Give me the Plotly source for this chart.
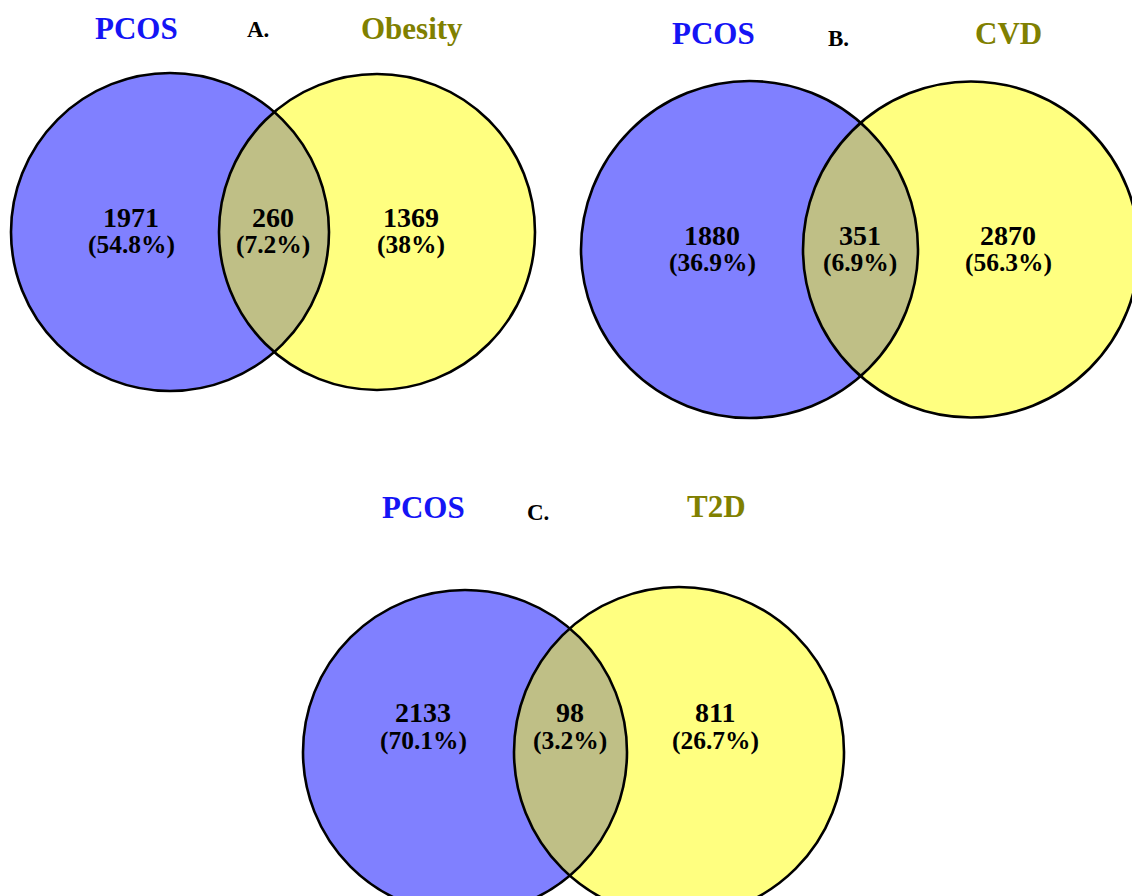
import numpy as np
import plotly.graph_objects as go

# ---------------- data ----------------
panel_letters = ["A.", "B.", "C."]
set_left = ["PCOS", "PCOS", "PCOS"]
set_right = ["Obesity", "CVD", "T2D"]
only_left = [1971, 1880, 2133]
shared = [260, 351, 98]
only_right = [1369, 2870, 811]
pct_left = ["54.8%", "36.9%", "70.1%"]
pct_shared = ["7.2%", "6.9%", "3.2%"]
pct_right = ["38%", "56.3%", "26.7%"]

# ---------------- layout geometry (pixels of the canvas) ----------------
W, H = 1132, 896
geom = [
    dict(c1=(170, 232), r1=159, c2=(377, 232), r2=158,
         tl=(136, 28), tm=(258, 29), tr=(412, 28),
         xs=(131, 273, 411), ny=217, py=244),
    dict(c1=(749.5, 249.5), r1=168.5, c2=(971, 249.5), r2=168,
         tl=(713, 33), tm=(838, 38), tr=(1008, 33),
         xs=(712, 860, 1008), ny=235, py=262),
    dict(c1=(465, 752), r1=162, c2=(679, 752), r2=165,
         tl=(423, 507), tm=(538, 512), tr=(716, 506),
         xs=(423, 570, 715), ny=712, py=740),
]

BLUE_FILL = "rgb(128,128,255)"
YELLOW_FILL = "rgb(255,255,128)"
LENS_FILL = "rgb(191,191,134)"
BLUE_TXT = "rgb(20,20,245)"
OLIVE_TXT = "rgb(128,128,0)"
FONT = "Liberation Serif"


def lens_path(c1, r1, c2, r2, n=80):
    (x1, y1), (x2, y2) = c1, c2
    d = np.hypot(x2 - x1, y2 - y1)
    a = (r1**2 - r2**2 + d**2) / (2 * d)
    h = np.sqrt(max(r1**2 - a**2, 0))
    ux, uy = (x2 - x1) / d, (y2 - y1) / d
    px, py = x1 + a * ux, y1 + a * uy
    p_top = (px + h * uy, py - h * ux)
    p_bot = (px - h * uy, py + h * ux)
    t1a = np.arctan2(p_top[1] - y1, p_top[0] - x1)
    t1b = np.arctan2(p_bot[1] - y1, p_bot[0] - x1)
    if t1b < t1a:
        t1b += 2 * np.pi
    th1 = np.linspace(t1a, t1b, n)
    t2a = np.arctan2(p_bot[1] - y2, p_bot[0] - x2)
    t2b = np.arctan2(p_top[1] - y2, p_top[0] - x2)
    if t2b < t2a:
        t2b += 2 * np.pi
    th2 = np.linspace(t2a, t2b, n)
    xs = np.concatenate([x1 + r1 * np.cos(th1), x2 + r2 * np.cos(th2)])
    ys = np.concatenate([y1 + r1 * np.sin(th1), y2 + r2 * np.sin(th2)])
    return "M " + " L ".join(f"{x:.2f},{y:.2f}" for x, y in zip(xs, ys)) + " Z"


shapes = []
annotations = []


def circle(c, r, fill=None, line=False):
    s = dict(type="circle", xref="x", yref="y",
             x0=c[0] - r, x1=c[0] + r, y0=c[1] - r, y1=c[1] + r,
             layer="above")
    s["fillcolor"] = fill if fill else "rgba(0,0,0,0)"
    s["line"] = dict(color="black", width=2.6) if line else dict(width=0)
    return s


def text(x, y, s, size, color="black"):
    annotations.append(dict(x=x, y=y, xref="x", yref="y", text=f"<b>{s}</b>",
                            showarrow=False, xanchor="center", yanchor="middle",
                            font=dict(family=FONT, size=size, color=color)))


for i, g in enumerate(geom):
    shapes.append(circle(g["c1"], g["r1"], fill=BLUE_FILL))
    shapes.append(circle(g["c2"], g["r2"], fill=YELLOW_FILL))
    shapes.append(dict(type="path", xref="x", yref="y", layer="above",
                       path=lens_path(g["c1"], g["r1"], g["c2"], g["r2"]),
                       fillcolor=LENS_FILL, line=dict(width=0)))
    shapes.append(circle(g["c1"], g["r1"], line=True))
    shapes.append(circle(g["c2"], g["r2"], line=True))

    text(g["tl"][0], g["tl"][1], set_left[i], 31, BLUE_TXT)
    text(g["tm"][0], g["tm"][1], panel_letters[i], 23, "black")
    text(g["tr"][0], g["tr"][1], set_right[i], 31, OLIVE_TXT)

    xl, xm, xr = g["xs"]
    text(xl, g["ny"], only_left[i], 28)
    text(xm, g["ny"], shared[i], 28)
    text(xr, g["ny"], only_right[i], 28)
    text(xl, g["py"], f"({pct_left[i]})", 25.5)
    text(xm, g["py"], f"({pct_shared[i]})", 25.5)
    text(xr, g["py"], f"({pct_right[i]})", 25.5)

fig = go.Figure()
fig.add_trace(go.Scatter(x=[0, W], y=[0, H], mode="markers",
                         marker=dict(opacity=0), hoverinfo="skip", showlegend=False))
fig.update_layout(
    width=W, height=H,
    margin=dict(l=0, r=0, t=0, b=0),
    paper_bgcolor="white", plot_bgcolor="white",
    xaxis=dict(range=[0, W], visible=False, fixedrange=True),
    yaxis=dict(range=[H, 0], visible=False, fixedrange=True),
    shapes=shapes, annotations=annotations, showlegend=False,
)
fig.write_html("out.html", config=dict(displayModeBar=False),
               post_script="document.body.style.margin='0px';document.body.style.overflow='hidden';")
